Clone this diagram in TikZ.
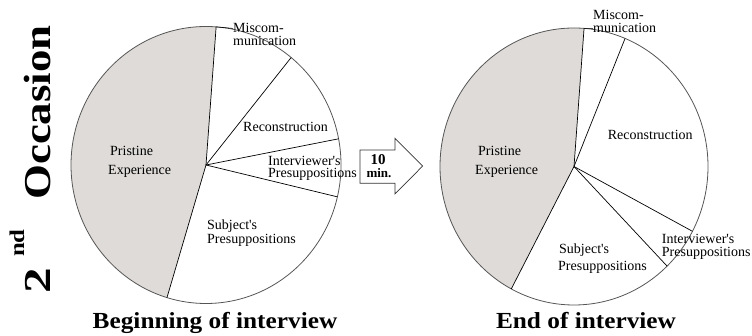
\documentclass[tikz,border=0pt]{standalone}
\usepackage{fontspec}
\setmainfont{Liberation Serif}
\usetikzlibrary{calc}
\definecolor{pgrey}{HTML}{DEDBD8}
\definecolor{rimc}{HTML}{555555}
\tikzset{
  lbl/.style={font=\fontsize{14}{14}\selectfont, inner sep=0pt, anchor=base west},
  ttl/.style={font=\bfseries\fontsize{23}{23}\selectfont, inner sep=0pt, anchor=base},
  rim/.style={draw=rimc, line width=0.8pt},
  spoke/.style={draw=black, line width=0.7pt},
  leader/.style={draw=black, line width=0.6pt},
  arrowshape/.style={draw=black!80, fill=white, line width=0.7pt, line join=miter}
}
\begin{document}
\begin{tikzpicture}[x=1pt,y=1pt]
\useasboundingbox (0,0) rectangle (752,336);
% ---------- left pie ----------
\begin{scope}[shift={(206,171)}]
  \coordinate (c1) at (0,0);
  \coordinate (l1) at (85.7:135 and 138.5);
  \coordinate (l2) at (50.9:135 and 138.5);
  \coordinate (l3) at (10.9:135 and 138.5);
  \coordinate (l4) at (-13.3:135 and 138.5);
  \coordinate (l5) at (253.2:135 and 138.5);
  \fill[pgrey] (c1) -- (l1) arc[start angle=85.7, end angle=253.2, x radius=135, y radius=138.5] -- cycle;
  \draw[rim] (0,0) ellipse [x radius=135, y radius=138.5];
  \foreach \p in {l1,l2,l3,l4,l5} \draw[spoke] (c1) -- (\p);
\end{scope}
% ---------- right pie ----------
\begin{scope}[shift={(574,169.5)}]
  \coordinate (c2) at (0,0);
  \coordinate (r1) at (85.7:134 and 138.5);
  \coordinate (r2) at (67.6:134 and 138.5);
  \coordinate (r3) at (-27.9:134 and 138.5);
  \coordinate (r4) at (-46:134 and 138.5);
  \coordinate (r5) at (242.1:134 and 138.5);
  \fill[pgrey] (c2) -- (r1) arc[start angle=85.7, end angle=242.1, x radius=134, y radius=138.5] -- cycle;
  \draw[rim] (0,0) ellipse [x radius=134, y radius=138.5];
  \foreach \p in {r1,r2,r3,r4,r5} \draw[spoke] (c2) -- (\p);
\end{scope}
% ---------- left labels ----------
\node[lbl] (lmisa) at (233,303) {Miscom-};
\node[lbl] (lmisb) at (233,290) {munication};
\node[lbl] (lrec) at (243,204.3) {Reconstruction};
\node[lbl] (linta) at (268,170.8) {Interviewer\textquotesingle s};
\node[lbl] (lintb) at (268,158.2) {Presuppositions};
\node[lbl] (lsuba) at (207,106) {Subject\textquotesingle s};
\node[lbl] (lsubb) at (207,92) {Presuppositions};
\node[lbl] (lpria) at (110,180) {Pristine};
\node[lbl] (lprib) at (108,161) {Experience};
\draw[leader] (l1) -- (lmisa.west);
% ---------- right labels ----------
\node[lbl] (rmisa) at (593,316) {Miscom-};
\node[lbl] (rmisb) at (593,303) {munication};
\node[lbl] (rrec) at (607.7,196) {Reconstruction};
\node[lbl] (rinta) at (661.7,92.7) {Interviewer\textquotesingle s};
\node[lbl] (rintb) at (661.7,79.3) {Presuppositions};
\node[lbl] (rsuba) at (559,82) {Subject\textquotesingle s};
\node[lbl] (rsubb) at (558,65) {Presuppositions};
\node[lbl] (rpria) at (478,180) {Pristine};
\node[lbl] (rprib) at (475,161) {Experience};
\draw[leader] (r1) -- (rmisb.west);
% ---------- arrow ----------
\draw[arrowshape] (360,186) -- (395,186) -- (395,197.7) -- (422.7,170) -- (395,142) -- (395,152.7) -- (360,152.7) -- cycle;
\node[inner sep=0pt, anchor=base, font=\bfseries\fontsize{15}{15}\selectfont] (ten) at (378,171) {10};
\node[inner sep=0pt, anchor=base, font=\bfseries\fontsize{13}{13}\selectfont] (mins) at (379,158) {min.};
% ---------- titles ----------
\node[ttl] (tbeg) at (215,7) {\scalebox{1.1}[1]{Beginning of interview}};
\node[ttl] (tend) at (586,7) {\scalebox{1.1}[1]{End of interview}};
% ---------- vertical title ----------
\node[rotate=90, anchor=base west, inner sep=0pt, font=\bfseries\fontsize{38}{38}\selectfont] (occ) at (50,136) {\scalebox{1.18}[1]{Occasion}};
\node[rotate=90, anchor=base west, inner sep=0pt, font=\bfseries\fontsize{38}{38}\selectfont] (two) at (50,42) {\scalebox{1.35}[1]{2}};
\node[rotate=90, anchor=base west, inner sep=0pt, font=\bfseries\fontsize{21}{21}\selectfont] (nd) at (24,79) {\scalebox{1.18}[1]{nd}};
\end{tikzpicture}
\end{document}
